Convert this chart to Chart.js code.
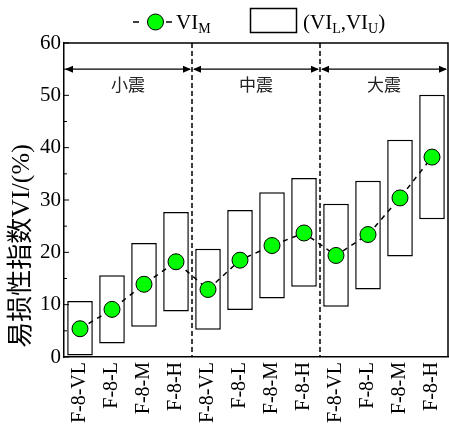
<!DOCTYPE html>
<html>
<head>
<meta charset="utf-8">
<script src="https://cdn.jsdelivr.net/npm/chart.js@4.4.0/dist/chart.umd.min.js"></script>
<style>
  body { margin: 0; background: #fff; }
  #wrap { width: 449px; height: 427px; }
</style>
</head>
<body>
<div id="wrap"><canvas id="vi-chart"></canvas></div>
<script>
// Chart data
var categories = ["F-8-VL", "F-8-L", "F-8-M", "F-8-H",
                  "F-8-VL", "F-8-L", "F-8-M", "F-8-H",
                  "F-8-VL", "F-8-L", "F-8-M", "F-8-H"]
var viLower = [0.3, 2.6, 5.8, 8.7, 5.2, 9.0, 11.2, 13.4, 9.6, 12.9, 19.2, 26.3]
var viUpper = [10.7, 15.6, 21.8, 27.7, 20.7, 28.1, 31.5, 34.2, 29.3, 33.7, 41.5, 50.1]
var viMean = [5.4, 9.1, 13.9, 18.2, 12.9, 18.5, 21.3, 23.7, 19.4, 23.4, 30.4, 38.2]
var groups = ["小震", "中震", "大震"]
var groupSize = 4
var yTicks = [0, 10, 20, 30, 40, 50, 60]
var arrowLevel = 55
var groupLabelLevel = 52

var serif = "'Liberation Serif', 'Times New Roman', serif"
var cjk = "'Liberation Serif', 'Noto Sans CJK SC', sans-serif"

// draws text with a subscript part, returns the new x
function subText(ctx, parts, x, y) {
    parts.forEach(function (p) {
        if (p.sub) {
            ctx.font = "14px " + serif
            ctx.fillText(p.t, x, y + 4)
        } else {
            ctx.font = "21px " + serif
            ctx.fillText(p.t, x, y)
        }
        x += ctx.measureText(p.t).width
    })
    return x
}

function arrowHead(ctx, x, y, dir) {
    ctx.beginPath()
    ctx.moveTo(x, y)
    ctx.lineTo(x - dir * 8, y - 3.5)
    ctx.lineTo(x - dir * 8, y + 3.5)
    ctx.closePath()
    ctx.fill()
}

var extras = {
    id: "extras",
    beforeDatasetsDraw(chart) {
        var ctx = chart.ctx, area = chart.chartArea, xs = chart.scales.x
        ctx.save()
        ctx.strokeStyle = "#000"
        ctx.lineWidth = 1.5
        ctx.setLineDash([5, 3])
        for (var g = 1; g < groups.length; g++) {
            var i = g * groupSize
            var px = (xs.getPixelForValue(i - 1) + xs.getPixelForValue(i)) / 2
            ctx.beginPath()
            ctx.moveTo(px, area.top)
            ctx.lineTo(px, area.bottom)
            ctx.stroke()
        }
        ctx.restore()
    },
    afterDraw(chart) {
        var ctx = chart.ctx, area = chart.chartArea
        var xs = chart.scales.x, ys = chart.scales.y
        ctx.save()

        // frame top and right
        ctx.strokeStyle = "#000"
        ctx.lineWidth = 1.5
        ctx.beginPath()
        ctx.moveTo(area.left, area.top)
        ctx.lineTo(area.right, area.top)
        ctx.lineTo(area.right, area.bottom)
        ctx.stroke()

        // inward ticks on y axis
        ctx.lineWidth = 1
        for (var v = 0; v <= 60; v += 5) {
            var py = ys.getPixelForValue(v)
            ctx.beginPath()
            ctx.moveTo(area.left, py)
            ctx.lineTo(area.left + (v % 10 === 0 ? 5 : 3), py)
            ctx.stroke()
        }

        // group arrows and labels
        var ay = ys.getPixelForValue(arrowLevel)
        var ly = ys.getPixelForValue(groupLabelLevel)
        ctx.fillStyle = "#000"
        ctx.lineWidth = 1.2
        for (var g = 0; g < groups.length; g++) {
            var first = g * groupSize, last = first + groupSize - 1
            var x0 = g === 0 ? area.left : (xs.getPixelForValue(first - 1) + xs.getPixelForValue(first)) / 2
            var x1 = g === groups.length - 1 ? area.right : (xs.getPixelForValue(last) + xs.getPixelForValue(last + 1)) / 2
            ctx.beginPath()
            ctx.moveTo(x0 + 2, ay)
            ctx.lineTo(x1 - 2, ay)
            ctx.stroke()
            arrowHead(ctx, x0 + 1, ay, -1)
            arrowHead(ctx, x1 - 1, ay, 1)
            ctx.font = "17px 'Noto Sans CJK SC', sans-serif"
            ctx.fillStyle = "#222"
            ctx.textAlign = "center"
            ctx.textBaseline = "middle"
            ctx.fillText(groups[g], (x0 + x1) / 2, ly)
            ctx.fillStyle = "#000"
        }

        // y axis title
        ctx.save()
        ctx.translate(22, 246)
        ctx.rotate(-Math.PI / 2)
        ctx.font = "26px " + cjk
        ctx.textAlign = "center"
        ctx.textBaseline = "middle"
        ctx.fillStyle = "#000"
        ctx.fillText("易损性指数VI/(%)", 0, 0)
        ctx.restore()

        // legend
        ctx.textAlign = "left"
        ctx.textBaseline = "alphabetic"
        ctx.strokeStyle = "#000"
        ctx.lineWidth = 1.5
        ctx.setLineDash([])
        ctx.beginPath()
        ctx.moveTo(133, 22); ctx.lineTo(139, 22)
        ctx.moveTo(166, 22); ctx.lineTo(172, 22)
        ctx.stroke()
        ctx.beginPath()
        ctx.arc(155.5, 22, 8, 0, Math.PI * 2)
        ctx.fillStyle = "#00ff00"
        ctx.fill()
        ctx.lineWidth = 1
        ctx.stroke()
        ctx.fillStyle = "#000"
        subText(ctx, [{t: "VI"}, {t: "M", sub: true}], 176, 29)
        ctx.lineWidth = 1.5
        ctx.strokeRect(250.5, 8.5, 46, 24)
        subText(ctx, [{t: "(VI"}, {t: "L", sub: true}, {t: ",VI"}, {t: "U", sub: true}, {t: ")"}], 303, 29)

        ctx.restore()
    }
}

function createChart() {
    var ranges = viLower.map(function (lo, i) { return [lo, viUpper[i]] })
    new Chart("vi-chart", {
        type: "bar",
        data: {
            labels: categories,
            datasets: [{
                type: "line",
                label: "VIM",
                data: viMean,
                order: 0,
                borderColor: "#000",
                borderWidth: 1.5,
                borderDash: [5, 5],
                pointRadius: 8,
                pointBackgroundColor: "#00ff00",
                pointBorderColor: "#000",
                pointBorderWidth: 1,
                tension: 0
            }, {
                type: "bar",
                label: "(VIL,VIU)",
                data: ranges,
                order: 1,
                backgroundColor: "#fff",
                borderColor: "#000",
                borderWidth: 1.5,
                borderSkipped: false,
                barPercentage: 0.8,
                categoryPercentage: 1
            }]
        },
        options: {
            responsive: true,
            maintainAspectRatio: false,
            animation: false,
            layout: { autoPadding: false, padding: { top: 43, right: 1, left: 0, bottom: 0 } },
            plugins: {
                legend: { display: false },
                tooltip: { enabled: false }
            },
            scales: {
                x: {
                    grid: { display: false, drawTicks: false },
                    border: { display: true, color: "#000", width: 1.5 },
                    ticks: {
                        color: "#000",
                        font: { family: serif, size: 20 },
                        minRotation: 90,
                        maxRotation: 90,
                        padding: 5,
                        autoSkip: false
                    },
                    afterFit: function (scale) {
                        scale.height = 70
                        scale.paddingLeft = 0
                        scale.paddingRight = 0
                    }
                },
                y: {
                    min: 0,
                    max: 60,
                    grid: { display: false, drawTicks: false },
                    border: { display: true, color: "#000", width: 1.5 },
                    afterBuildTicks: function (scale) {
                        scale.ticks = yTicks.map(function (v) { return { value: v } })
                    },
                    ticks: {
                        color: "#000",
                        font: { family: serif, size: 21 },
                        padding: 3
                    },
                    afterFit: function (scale) {
                        scale.width = 64
                        scale.paddingTop = 0
                        scale.paddingBottom = 0
                    }
                }
            }
        },
        plugins: [extras]
    })
}

createChart()
</script>
</body>
</html>
